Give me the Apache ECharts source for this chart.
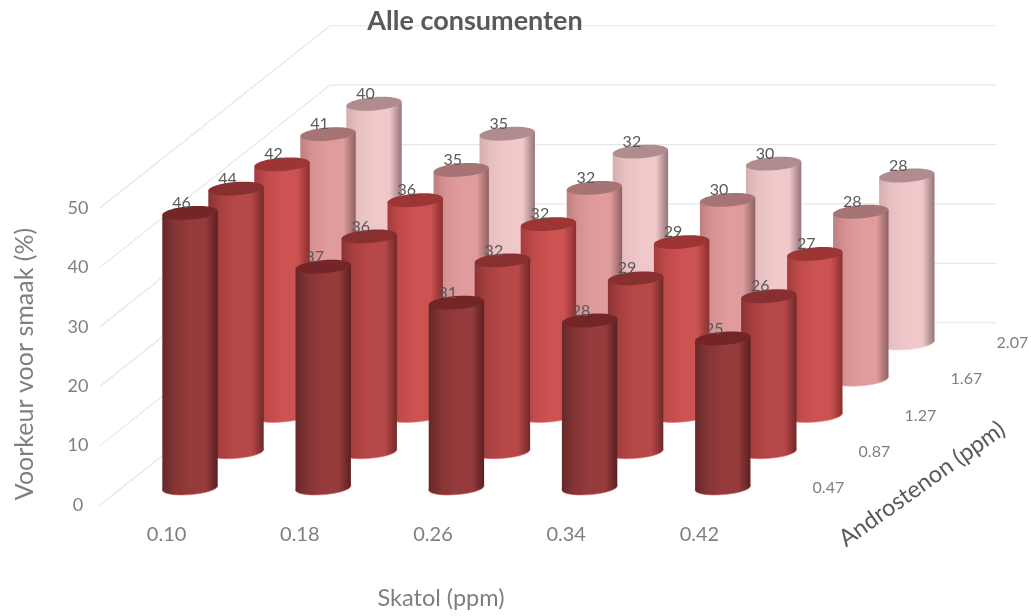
<!DOCTYPE html>
<html><head><meta charset="utf-8">
<style>html,body{margin:0;padding:0;background:#fff}#c{width:1031px;height:616px}</style>
<script src="https://cdn.jsdelivr.net/npm/echarts@6/dist/echarts.min.js"></script>
</head><body><div id="c"></div>
<script>
const skatol = ['0.10','0.18','0.26','0.34','0.42'];
const androstenon = ['0.47','0.87','1.27','1.67','2.07'];
const row047 = [46,37,31,28,25];
const row087 = [44,36,32,29,26];
const row127 = [42,36,32,29,27];
const row167 = [41,35,32,30,28];
const row207 = [40,35,32,30,28];
const yTicks = [0,10,20,30,40,50];
const rows = [row047,row087,row127,row167,row207];

const palettes = [
 {l:'#662828',a:'#853434',m:'#953b3b',r:'#5a2020',top:'#742626',edge:'#c45a5a'},
 {l:'#8a3333',a:'#a84040',m:'#b74848',r:'#702828',top:'#883030',edge:'#d96a6a'},
 {l:'#a33c3c',a:'#c04a4a',m:'#cd5252',r:'#8a2e2e',top:'#9e3535',edge:'#e87a7a'},
 {l:'#bf8080',a:'#d69292',m:'#e09c9c',r:'#8e6060',top:'#a67474',edge:'#ecb0b0'},
 {l:'#d4aeb0',a:'#e8c0c2',m:'#f0c8ca',r:'#977478',top:'#b08c8e',edge:'#f3d0d0'}
];
const DX = 46, DY = 36.25, RX = 27.7, RY = 6.6, TILT = 0.08, SLANT = RX*Math.sin(TILT);
const GREY = '#7f7f7f', DARK = '#595959', LINE = '#e4e6e8';

function cylinder(row){
  const p = palettes[row];
  const grad = () => new echarts.graphic.LinearGradient(0,0,1,0,[
    {offset:0,color:p.l},{offset:.22,color:p.a},{offset:.5,color:p.m},{offset:.78,color:p.m},{offset:1,color:p.r}]);
  return function(params, api){
    const top = api.coord([api.value(0), api.value(1)]);
    const bot = api.coord([api.value(0), 0]);
    const cx = top[0] + row*DX, ty = top[1] - row*DY, by = bot[1] - row*DY;
    return {type:'group', children:[
      {type:'ellipse', shape:{cx:cx,cy:by,rx:RX,ry:RY}, rotation:TILT, originX:cx, originY:by,
       style:{fill:grad(), stroke:p.edge, lineWidth:0.6}},
      {type:'polygon', shape:{points:[[cx-RX,ty+SLANT],[cx+RX,ty-SLANT],[cx+RX,by-SLANT],[cx-RX,by+SLANT]]},
       style:{fill:grad()}},
      {type:'ellipse', shape:{cx:cx,cy:ty,rx:RX,ry:RY}, rotation:TILT, originX:cx, originY:ty,
       style:{fill:p.top}}
    ]};
  };
}
function pair(arr){ return arr.map((v,i)=>[i,v]); }

const series = [];
series.push({
  type:'custom', coordinateSystem:'cartesian2d', xAxisIndex:1, yAxisIndex:1, z:1, silent:true, clip:false,
  data: yTicks.map(t=>[0,t]),
  renderItem(params, api){
    const a = api.coord([0, api.value(1)]);
    const band = api.size([1,0])[0];
    const lx = a[0]-band/2, ly = a[1];
    const cx = lx + 5*DX, cy = ly - 5*DY - 1;
    return {type:'polyline', shape:{points:[[lx,ly],[cx,cy],[cx+5*band,cy]]},
      style:{stroke:LINE, lineWidth:1.2, fill:null}};
  }
});
rows.forEach((r,i)=>series.push({
  type:'custom', coordinateSystem:'cartesian2d', xAxisIndex:0, yAxisIndex:0, z:10-i, silent:true, clip:false,
  data: pair(r), renderItem: cylinder(i)
}));
rows.forEach((r,i)=>series.push({
  type:'custom', coordinateSystem:'cartesian2d', xAxisIndex:0, yAxisIndex:0, z:20, silent:true, clip:false,
  data: pair(r),
  renderItem(params, api){
    const t = api.coord([api.value(0), api.value(1)]);
    return {type:'text', style:{text:String(api.value(1)), x:t[0]+i*DX-8.5, y:t[1]-i*DY-10,
      fill:DARK, font:'16px Lato', align:'center', verticalAlign:'middle'}};
  }
}));
series.push({
  type:'custom', coordinateSystem:'cartesian2d', xAxisIndex:0, yAxisIndex:0, z:20, silent:true, clip:false,
  data: androstenon.map((a,i)=>[4,0]),
  renderItem(params, api){
    const i = params.dataIndex, b = api.coord([4,0]), band = api.size([1,0])[0];
    return {type:'text', style:{text:androstenon[i], x:b[0]+band/2+39+i*DX, y:b[1]-i*DY,
      fill:GREY, font:'16px Lato', align:'center', verticalAlign:'middle'}};
  }
});

const chart = echarts.init(document.getElementById('c'), null, {renderer:'canvas'});
chart.setOption({
  animation:false,
  backgroundColor:'#fff',
  title:{text:'Alle consumenten', left:470, top:16, textAlign:'center', textVerticalAlign:'middle',
    textStyle:{fontFamily:'Lato', fontWeight:'bold', fontSize:27, color:'#595959'}},
  grid:[
    {left:123.4, top:189, width:666, height:299},
    {left:100, top:208, width:666, height:297}
  ],
  xAxis:[
    {gridIndex:0, type:'category', data:skatol, show:false},
    {gridIndex:1, type:'category', data:skatol, axisLine:{show:false}, axisTick:{show:false},
     axisLabel:{margin:20, color:GREY, fontFamily:'Lato', fontSize:20}}
  ],
  yAxis:[
    {gridIndex:0, type:'value', min:0, max:50, show:false},
    {gridIndex:1, type:'value', min:0, max:50, interval:10, axisLine:{show:false}, axisTick:{show:false},
     splitLine:{show:false}, axisLabel:{margin:22, align:'center', color:GREY, fontFamily:'Lato', fontSize:18}}
  ],
  graphic:[
    {type:'text', x:25, y:364, rotation:Math.PI/2,
     style:{text:'Voorkeur voor smaak (%)', x:0, y:0, fill:GREY, font:'25px Lato', align:'center', verticalAlign:'middle'}},
    {type:'text', x:441, y:598, style:{text:'Skatol (ppm)', x:0, y:0, fill:GREY, font:'23.5px Lato', align:'center', verticalAlign:'middle'}},
    {type:'text', x:922, y:484, rotation:0.62,
     style:{text:'Androstenon (ppm)', x:0, y:0, fill:DARK, font:'23.5px Lato', align:'center', verticalAlign:'middle'}}
  ],
  series: series
});
</script></body></html>
